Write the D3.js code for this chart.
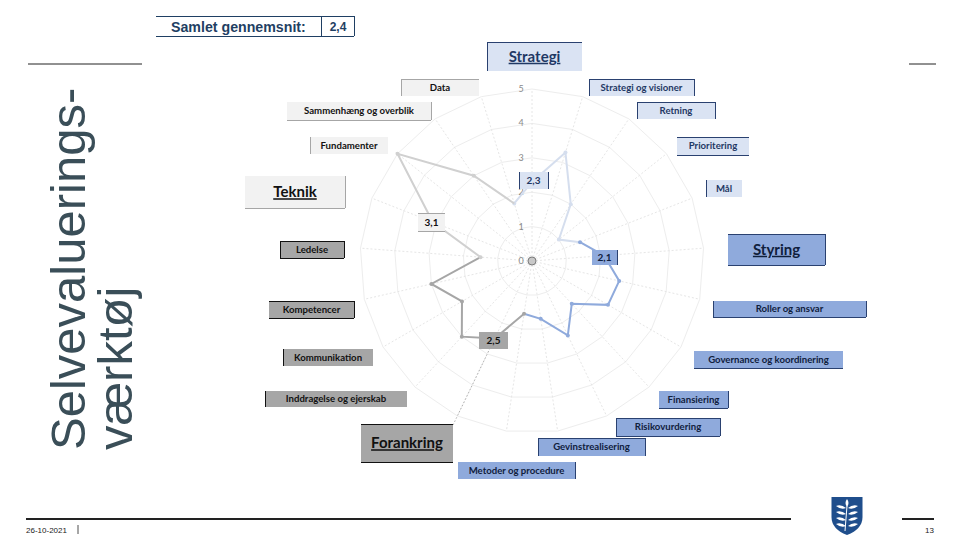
<!DOCTYPE html>
<html>
<head>
<meta charset="utf-8">
<script src="https://cdn.jsdelivr.net/npm/d3@7"></script>
<style>
  body { margin: 0; background: #fff; }
  svg { display: block; }
  text { font-family: Lato, "Open Sans", sans-serif; }
</style>
</head>
<body>
<div id="chart"></div>
<script>
// spokes clockwise from 12 o'clock, group averages sit on their own spoke
const categories = ['Strategi', 'Strategi og visioner', 'Retning', 'Prioritering', 'Mål',
  'Styring', 'Roller og ansvar', 'Governance og koordinering', 'Finansiering', 'Risikovurdering',
  'Gevinstrealisering', 'Metoder og procedure', 'Forankring', 'Ledelse', 'Kompetencer',
  'Kommunikation', 'Inddragelse og ejerskab', 'Teknik', 'Fundamenter', 'Sammenhæng og overblik', 'Data'];
const scores = [2.3, 3.3, 2.0, 1.0, 1.5, 2.1, 2.6, 2.55, 1.7, 2.4, 1.7, 1.55, 2.5, 3.0, 2.35, 3.0, 1.5, 3.1, 5.0, 3.0, 1.75];
const groups = ['Strategi', 'Styring', 'Forankring', 'Teknik'];
const groupStart = [0, 5, 12, 17];
const radialTicks = [0, 1, 2, 3, 4, 5];
const overall = '2,4';

const width = 960, height = 540;
const cx = 532, cy = 261;

const colors = {
  Strategi: { fill: '#dae3f3', line: '#d5deee', edge: '#2a4170', text: '#1f3864' },
  Styring: { fill: '#8faadc', line: '#8faadc', edge: '#2a4170', text: '#10203c' },
  Forankring: { fill: '#a6a6a6', line: '#a6a6a6', edge: '#111', text: '#111' },
  Teknik: { fill: '#f2f2f2', line: '#d0d0d0', edge: '#a6a6a6', text: '#111' }
};

const svg = d3.select('#chart').append('svg')
  .attr('width', width)
  .attr('height', height);

const angle = d3.scaleBand().domain(categories).range([0, 2 * Math.PI]).align(0);
const r = d3.scaleLinear().domain([0, 5]).range([0, 172]);
const polar = (cat, v) => {
  const a = angle(cat);
  return [cx + r(v) * Math.sin(a), cy - r(v) * Math.cos(a)];
};

// grid
const plot = svg.append('g');
radialTicks.slice(1).forEach(t => {
  plot.append('path')
    .attr('d', d3.line()(categories.map(c => polar(c, t))) + 'Z')
    .attr('fill', 'none')
    .attr('stroke', '#ededed')
    .attr('stroke-width', 1);
});
plot.selectAll('.spoke')
  .data(categories)
  .enter().append('line')
  .attr('class', 'spoke')
  .attr('x1', cx).attr('y1', cy)
  .attr('x2', d => polar(d, 5)[0])
  .attr('y2', d => polar(d, 5)[1])
  .attr('stroke', '#e6e6e6')
  .attr('stroke-dasharray', '2,2');

// the one spoke that shows darker, running out under the Forankring box
plot.append('line')
  .attr('x1', polar('Forankring', 2.5)[0]).attr('y1', polar('Forankring', 2.5)[1])
  .attr('x2', polar('Forankring', 5.3)[0]).attr('y2', polar('Forankring', 5.3)[1])
  .attr('stroke', '#b0b0b0')
  .attr('stroke-dasharray', '1.5,2');

plot.selectAll('.tick')
  .data(radialTicks)
  .enter().append('text')
  .attr('x', cx - 11)
  .attr('y', d => cy - r(d) + 3)
  .attr('text-anchor', 'middle')
  .attr('font-size', 9)
  .attr('fill', '#8a8a8a')
  .text(d => d);

plot.append('circle')
  .attr('cx', cx).attr('cy', cy).attr('r', 4)
  .attr('fill', '#c8c8c8').attr('stroke', '#666').attr('stroke-width', 0.8);

// score line, each stretch leads up to and on from its group average
const n = categories.length;
groups.forEach((g, i) => {
  const from = groupStart[i] - 1;
  const to = i < groups.length - 1 ? groupStart[i + 1] - 1 : n - 1;
  const idx = d3.range(from, to + 1).map(k => (k + n) % n);
  plot.append('path')
    .attr('d', d3.line()(idx.map(k => polar(categories[k], scores[k]))))
    .attr('fill', 'none')
    .attr('stroke', colors[g].line)
    .attr('stroke-width', 2);
  plot.selectAll('.pt' + i)
    .data(idx.slice(0, -1))
    .enter().append('circle')
    .attr('cx', k => polar(categories[k], scores[k])[0])
    .attr('cy', k => polar(categories[k], scores[k])[1])
    .attr('r', 2)
    .attr('fill', colors[g].line);
});

// label boxes: [text, group, x0, y0, x1, y1, edges, size]
const small = 9.6;
const boxes = [
  ['Strategi', 'Strategi', 487, 42, 582, 71, 'tl', 15],
  ['Strategi og visioner', 'Strategi', 589, 79, 694, 96, 'tlr', small],
  ['Retning', 'Strategi', 637, 102, 715, 119, 'tlr', small],
  ['Prioritering', 'Strategi', 677, 137, 749, 155, 'tb', small],
  ['Mål', 'Strategi', 706, 180, 742, 197, 'l', small],
  ['Styring', 'Styring', 728, 234, 825, 265, 'trb', 15],
  ['Roller og ansvar', 'Styring', 713, 301, 866, 317, 'lrb', small],
  ['Governance og koordinering', 'Styring', 694, 351, 843, 368, 'b', small],
  ['Finansiering', 'Styring', 659, 391, 728, 408, 'rb', small],
  ['Risikovurdering', 'Styring', 616, 418, 720, 436, 'trbl', small],
  ['Gevinstrealisering', 'Styring', 538, 438, 645, 456, 'trl', small],
  ['Metoder og procedure', 'Styring', 458, 462, 575, 479, 'r', small],
  ['Forankring', 'Forankring', 361, 424, 453, 462, 'tb', 15],
  ['Ledelse', 'Forankring', 280, 241, 344, 258, 'trbl', small],
  ['Kompetencer', 'Forankring', 269, 301, 354, 318, 'trb', small],
  ['Kommunikation', 'Forankring', 283, 349, 373, 366, 'l', small],
  ['Inddragelse og ejerskab', 'Forankring', 265, 391, 407, 407, 'l', small],
  ['Teknik', 'Teknik', 245, 176, 345, 208, 'rb', 15],
  ['Fundamenter', 'Teknik', 310, 137, 388, 154, 'l', small],
  ['Sammenhæng og overblik', 'Teknik', 287, 102, 431, 120, 'rb', small],
  ['Data', 'Teknik', 401, 79, 479, 96, 'tl', small],
  ['2,3', 'Strategi', 519, 172, 548, 189, 'lr', 10],
  ['2,1', 'Styring', 592, 250, 617, 265, 'r', 10],
  ['2,5', 'Forankring', 479, 332, 508, 349, '', 10],
  ['3,1', 'Teknik', 418, 213, 445, 231, 'tb', 10]
];

const edgeLine = {
  t: (a, b, c, d) => [a, b, c, b],
  b: (a, b, c, d) => [a, d, c, d],
  l: (a, b, c, d) => [a, b, a, d],
  r: (a, b, c, d) => [c, b, c, d]
};

boxes.forEach(([label, g, x0, y0, x1, y1, edges, size]) => {
  const box = svg.append('g');
  box.append('rect')
    .attr('x', x0).attr('y', y0)
    .attr('width', x1 - x0).attr('height', y1 - y0)
    .attr('fill', colors[g].fill);
  edges.split('').forEach(e => {
    const [a, b, c, d] = edgeLine[e](x0, y0, x1, y1);
    box.append('line')
      .attr('x1', a).attr('y1', b).attr('x2', c).attr('y2', d)
      .attr('stroke', colors[g].edge)
      .attr('stroke-width', 1)
      .attr('shape-rendering', 'crispEdges');
  });
  box.append('text')
    .attr('x', (x0 + x1) / 2)
    .attr('y', (y0 + y1) / 2)
    .attr('dy', '.35em')
    .attr('text-anchor', 'middle')
    .attr('font-size', size)
    .attr('font-weight', 700)
    .attr('fill', colors[g].text)
    .attr('text-decoration', size === 15 ? 'underline' : null)
    .text(label);
});

// overall score table
const navy = '#1f3f63';
[[156, 16, 354, 16], [156, 36, 354, 36], [321, 16, 321, 36], [354, 16, 354, 36]].forEach(l => {
  svg.append('line')
    .attr('x1', l[0]).attr('y1', l[1]).attr('x2', l[2]).attr('y2', l[3])
    .attr('stroke', navy)
    .attr('shape-rendering', 'crispEdges');
});
svg.append('text').attr('x', 171).attr('y', 32)
  .style('font-family', '"Liberation Sans", Arial, sans-serif')
  .attr('font-size', 14.2).attr('font-weight', 700).attr('fill', navy)
  .text('Samlet gennemsnit:');
svg.append('text').attr('x', 338).attr('y', 31).attr('text-anchor', 'middle')
  .style('font-family', '"Liberation Sans", Arial, sans-serif')
  .attr('font-size', 12).attr('font-weight', 700).attr('fill', navy)
  .text(overall);

// slide furniture
[[28, 64, 142, 64, 1], [909, 64, 936, 64, 1], [26, 519, 791, 519, 2], [902, 519, 934, 519, 2], [78, 525, 78, 534, 0.8]].forEach(l => {
  svg.append('line')
    .attr('x1', l[0]).attr('y1', l[1]).attr('x2', l[2]).attr('y2', l[3])
    .attr('stroke', '#222').attr('stroke-width', l[4]);
});

const title = svg.append('text')
  .attr('transform', 'translate(85,450) rotate(-90)')
  .style('font-family', '"Liberation Sans", Arial, sans-serif')
  .attr('font-size', 49)
  .attr('fill', '#3a4e58');
title.append('tspan').attr('x', 0).attr('y', 0).text('Selvevaluerings-');
title.append('tspan').attr('x', 0).attr('y', 47).text('værktøj');

svg.append('text').attr('x', 26).attr('y', 533)
  .style('font-family', '"Liberation Sans", Arial, sans-serif')
  .attr('font-size', 8).attr('fill', '#222').text('26-10-2021');
svg.append('text').attr('x', 934).attr('y', 533).attr('text-anchor', 'end')
  .style('font-family', '"Liberation Sans", Arial, sans-serif')
  .attr('font-size', 8).attr('fill', '#222').text('13');

// logo
const logo = svg.append('g').attr('transform', 'translate(847,497)');
logo.append('path')
  .attr('d', 'M-15.5,0 H15.5 V20 Q15.5,32 0,38 Q-15.5,32 -15.5,20 Z')
  .attr('fill', '#1f4e8c');
logo.append('path')
  .attr('d', 'M0,2 Q3,6 0,10 Q-3,6 0,2 Z')
  .attr('fill', '#fff');
logo.append('line')
  .attr('x1', 0).attr('y1', 9).attr('x2', -2).attr('y2', 34)
  .attr('stroke', '#fff').attr('stroke-width', 1);
[9, 15, 21, 27].forEach(y => {
  [-1, 1].forEach(s => {
    logo.append('path')
      .attr('d', `M${s},${y + 2} Q${s * 6},${y - 2} ${s * 11},${y} Q${s * 6},${y + 4} ${s},${y + 2} Z`)
      .attr('fill', '#fff');
  });
});
</script>
</body>
</html>
